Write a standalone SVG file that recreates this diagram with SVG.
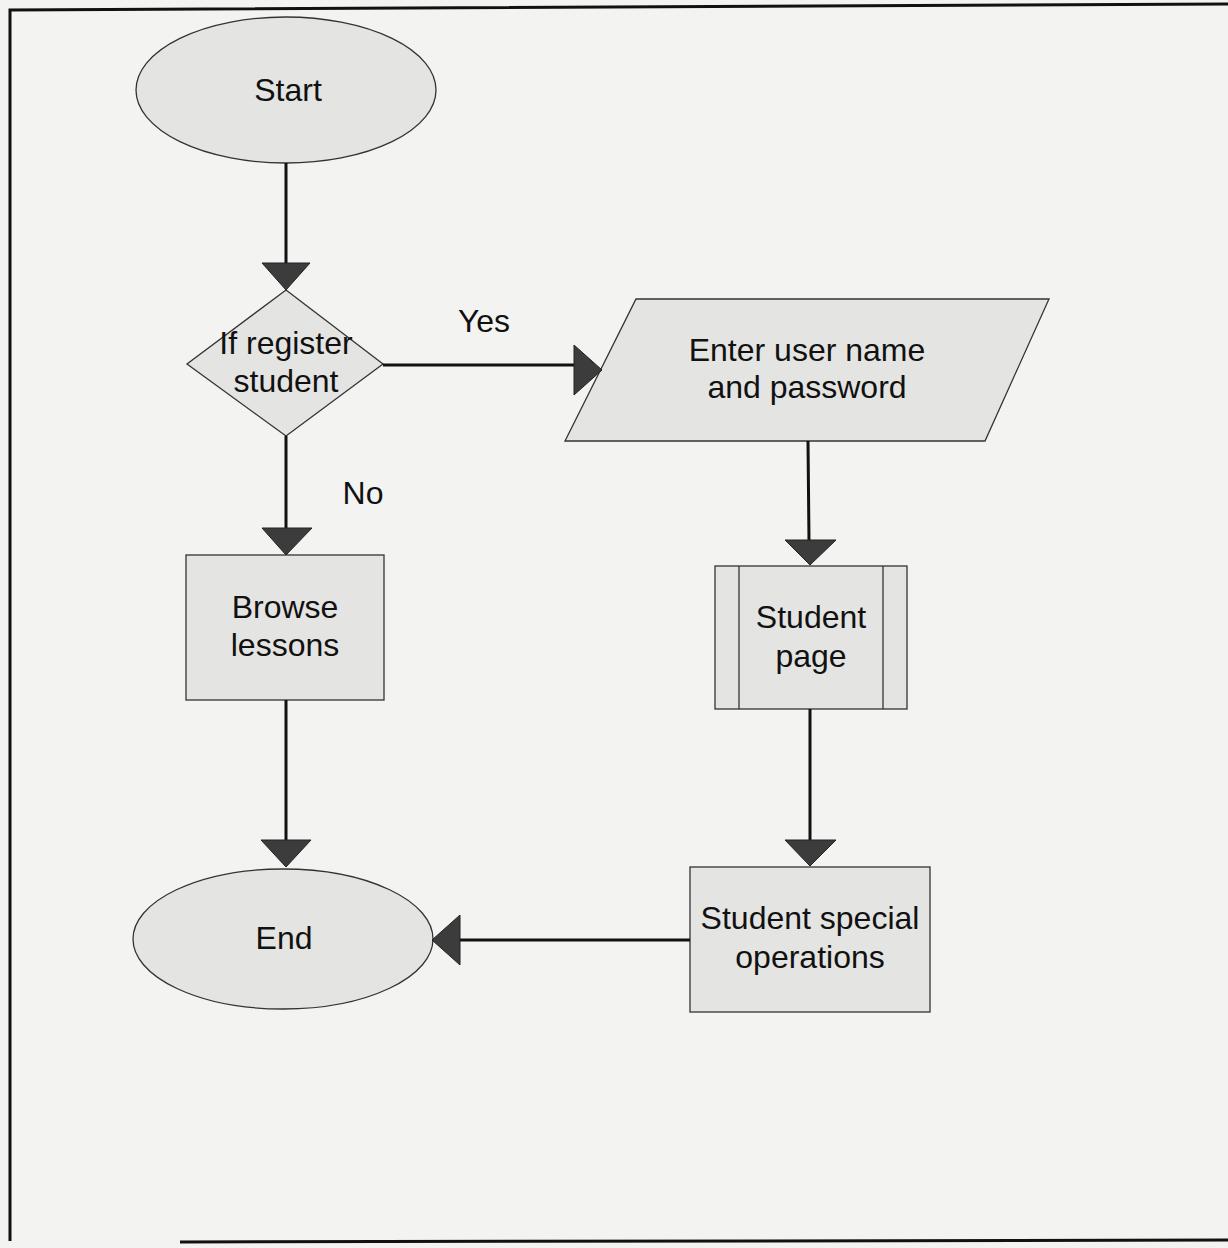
<svg xmlns="http://www.w3.org/2000/svg" width="1228" height="1248" viewBox="0 0 1228 1248">
<defs>
<style>
.shape{fill:#e4e4e2;stroke:#333;stroke-width:1.3}
.lbl{font-family:"Liberation Sans",Arial,sans-serif;font-size:32px;fill:#111;text-anchor:middle;dominant-baseline:central}
.conn{stroke:#111;stroke-width:3;fill:none}
.head{fill:#3c3c3c;stroke:#222;stroke-width:1}
</style>
</defs>
<rect x="0" y="0" width="1228" height="1248" fill="#f3f3f1"/>
<path d="M1228,4 L10,10 L10,1241 M180,1242 L1228,1240" fill="none" stroke="#111" stroke-width="3"/>

<g id="start">
<ellipse class="shape" cx="286" cy="90" rx="150" ry="73"/>
<text class="lbl" x="288" y="90">Start</text>
</g>
<g id="decision">
<polygon class="shape" points="286,290 383,364 286,436 187,364"/>
<text class="lbl" x="286" y="343">If register</text>
<text class="lbl" x="286" y="381">student</text>
</g>
<g id="enter">
<polygon class="shape" points="636,299 1049,299 985,441 565,441"/>
<text class="lbl" x="807" y="350">Enter user name</text>
<text class="lbl" x="807" y="387">and password</text>
</g>
<g id="browse">
<rect class="shape" x="186" y="555" width="198" height="145"/>
<text class="lbl" x="285" y="607">Browse</text>
<text class="lbl" x="285" y="645">lessons</text>
</g>
<g id="studentpage">
<rect class="shape" x="715" y="566" width="192" height="143"/>
<line x1="739" y1="566" x2="739" y2="709" stroke="#333" stroke-width="1.3"/>
<line x1="883" y1="566" x2="883" y2="709" stroke="#333" stroke-width="1.3"/>
<text class="lbl" x="811" y="617">Student</text>
<text class="lbl" x="811" y="656">page</text>
</g>
<g id="special">
<rect class="shape" x="690" y="867" width="240" height="145"/>
<text class="lbl" x="810" y="918">Student special</text>
<text class="lbl" x="810" y="957">operations</text>
</g>
<g id="end">
<ellipse class="shape" cx="283" cy="939" rx="150" ry="70"/>
<text class="lbl" x="284" y="938">End</text>
</g>

<g id="connectors">
<line class="conn" x1="286" y1="163" x2="286" y2="264"/>
<polygon class="head" points="262,263 310,263 286,290"/>
<line class="conn" x1="383" y1="365" x2="575" y2="365"/>
<polygon class="head" points="574,345 574,395 602,370"/>
<line class="conn" x1="808" y1="441" x2="809" y2="541"/>
<polygon class="head" points="785,540 836,540 810,565"/>
<line class="conn" x1="286" y1="436" x2="286" y2="529"/>
<polygon class="head" points="262,528 312,528 286,555"/>
<line class="conn" x1="286" y1="700" x2="286" y2="841"/>
<polygon class="head" points="261,840 311,840 286,867"/>
<line class="conn" x1="810" y1="709" x2="810" y2="841"/>
<polygon class="head" points="785,840 836,840 810,866"/>
<line class="conn" x1="690" y1="940" x2="459" y2="940"/>
<polygon class="head" points="460,915 460,965 432,940"/>
<text class="lbl" x="484" y="321">Yes</text>
<text class="lbl" x="363" y="493">No</text>
</g>
</svg>
